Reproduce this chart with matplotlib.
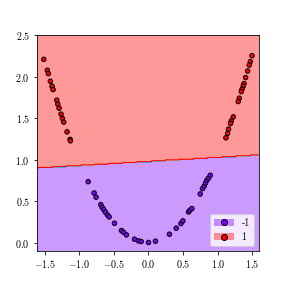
import numpy as np
import matplotlib
matplotlib.use("Agg")
import matplotlib.pyplot as plt
from matplotlib.patches import Patch
from matplotlib.lines import Line2D

plt.rcParams["font.family"] = "serif"
plt.rcParams["font.serif"] = ["cmr10"]
plt.rcParams["mathtext.fontset"] = "cm"
plt.rcParams["axes.formatter.use_mathtext"] = True
plt.rcParams["font.size"] = 10

# points (x, y) for each class
x_neg = [-0.871, -0.785, -0.756, -0.688, -0.669, -0.645, -0.621, -0.592, -0.568,
         -0.491, -0.390, -0.361, -0.318, -0.202, -0.145, -0.105, 0.0, 0.101,
         0.303, 0.400, 0.468, 0.497, 0.578, 0.598, 0.627, 0.747, 0.780, 0.805,
         0.824, 0.844, 0.867, 0.892]
y_neg = [0.736, 0.600, 0.549, 0.460, 0.428, 0.400, 0.368, 0.336, 0.312,
         0.236, 0.148, 0.128, 0.096, 0.044, 0.024, 0.016, 0.004, 0.020,
         0.104, 0.176, 0.232, 0.264, 0.372, 0.392, 0.412, 0.588, 0.652, 0.684,
         0.720, 0.756, 0.780, 0.813]
x_pos = [-1.511, -1.460, -1.445, -1.416, -1.392, -1.377, -1.324, -1.309, -1.290,
         -1.262, -1.243, -1.223, -1.175, -1.131, -1.127,
         1.494, 1.470, 1.455, 1.431, 1.402, 1.379, 1.368, 1.350, 1.340, 1.311,
         1.296, 1.224, 1.195, 1.185, 1.156, 1.142, 1.118]
y_pos = [2.209, 2.077, 2.037, 1.945, 1.885, 1.845, 1.717, 1.669, 1.621,
         1.549, 1.497, 1.453, 1.336, 1.245, 1.228,
         2.253, 2.181, 2.140, 2.068, 1.989, 1.917, 1.888, 1.849, 1.821, 1.741,
         1.701, 1.516, 1.468, 1.437, 1.369, 1.317, 1.264]

# linear decision boundary y = b0 + b1 * x
b0, b1 = 0.978, 0.049

X = np.array(x_neg + x_pos)
Y = np.array(y_neg + y_pos)
labels = np.array([-1] * len(x_neg) + [1] * len(x_pos))

h = 0.01
xx, yy = np.meshgrid(np.arange(X.min() - 0.1, X.max() + 0.1, h),
                     np.arange(-0.1, 2.5 + h, h))
Z = np.where(yy > b0 + b1 * xx, 1, -1)

cmap = plt.cm.rainbow
fig = plt.figure(figsize=(4, 4), dpi=72)
ax = fig.add_axes([0.128, 0.128, 0.771, 0.75])
ax.contourf(xx, yy, Z, levels=np.linspace(-1, 1, 9), cmap=cmap, alpha=0.4,
            vmin=-0.875, vmax=0.875)
ax.contour(xx, yy, Z, levels=[0.5], colors=[cmap(1.0)], linewidths=1.0)
ax.scatter(X, Y, c=labels, cmap=cmap, s=20, edgecolors="k", zorder=3)
ax.set_xlim(X.min() - 0.1, X.max() + 0.1)
ax.set_ylim(-0.1, 2.5)
ax.set_xticks([-1.5, -1.0, -0.5, 0.0, 0.5, 1.0, 1.5])

handles = [
    (Patch(facecolor=cmap(0.0), alpha=0.4), Line2D([], [], marker="o", ls="", color=cmap(0.0), mec="k")),
    (Patch(facecolor=cmap(1.0), alpha=0.4), Line2D([], [], marker="o", ls="", color=cmap(1.0), mec="k")),
]
ax.legend(handles, ["-1", "1"], loc="lower right")

fig.savefig("out.png", dpi=72)
